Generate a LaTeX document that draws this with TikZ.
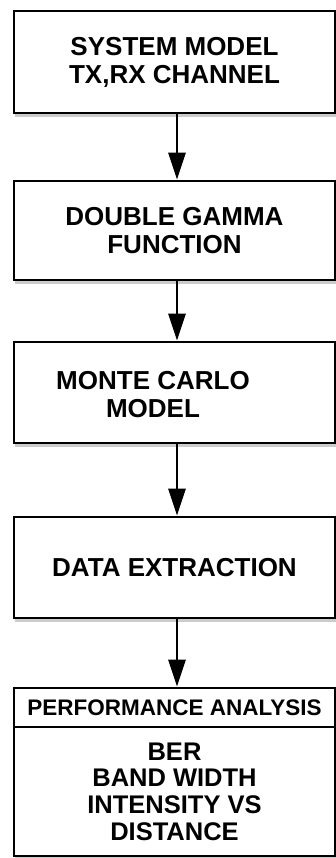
\documentclass[tikz,border=0pt]{standalone}
\usepackage{fontspec}
\setmainfont{Liberation Sans}
\usetikzlibrary{arrows.meta,shadows,positioning}

\begin{document}
\begin{tikzpicture}[x=1pt,y=1pt,
                stagebox/.style={draw=black, line width=2.8pt, fill=white, minimum width=321pt,
                  align=center, font=\bfseries\fontsize{26}{28}\selectfont,
                  drop shadow={shadow xshift=0.5pt, shadow yshift=-4pt, opacity=0.4}},
                stagearrow/.style={line width=2.8pt, -{Triangle[length=27pt,width=17pt]}}]
                \useasboundingbox (0,0) rectangle (336,-858);
                \node [stagebox, minimum height=102pt] (sysmodel) at (174.5,-62) {SYSTEM MODEL\\TX,RX CHANNEL};
                \node [stagebox, minimum height=99pt] (gamma) at (174.5,-230.5) {DOUBLE GAMMA\\FUNCTION};
                \node [stagebox, minimum height=101pt] (monte) at (174.5,-392.5) {};
                \node [align=center, font=\bfseries\fontsize{26}{28}\selectfont] (montetext) at (153,-395) {MONTE CARLO\\MODEL};
                \node [stagebox, minimum height=101pt] (extract) at (174.5,-567.5) {DATA EXTRACTION};
                \node [stagebox, minimum height=39pt, drop shadow={opacity=0},
                  font=\bfseries\fontsize{22.5}{24}\selectfont] (perfhead) at (174.5,-707.5) {PERFORMANCE ANALYSIS};
                \node [stagebox, minimum height=129pt, drop shadow={opacity=0},
                  font=\bfseries\fontsize{25.5}{26.7}\selectfont] (perfbody) at (174.5,-791.5) {BER\\BAND WIDTH\\INTENSITY VS\\DISTANCE};
                \draw [stagearrow] ([xshift=2.5pt]sysmodel.south) -- ([xshift=2.5pt]gamma.north);
                \draw [stagearrow] ([xshift=2.5pt]gamma.south) -- ([xshift=2.5pt]monte.north);
                \draw [stagearrow] ([xshift=2.5pt]monte.south) -- ([xshift=2.5pt]extract.north);
                \draw [stagearrow] ([xshift=2.5pt]extract.south) -- ([xshift=2.5pt]perfhead.north);
\end{tikzpicture}
\end{document}
